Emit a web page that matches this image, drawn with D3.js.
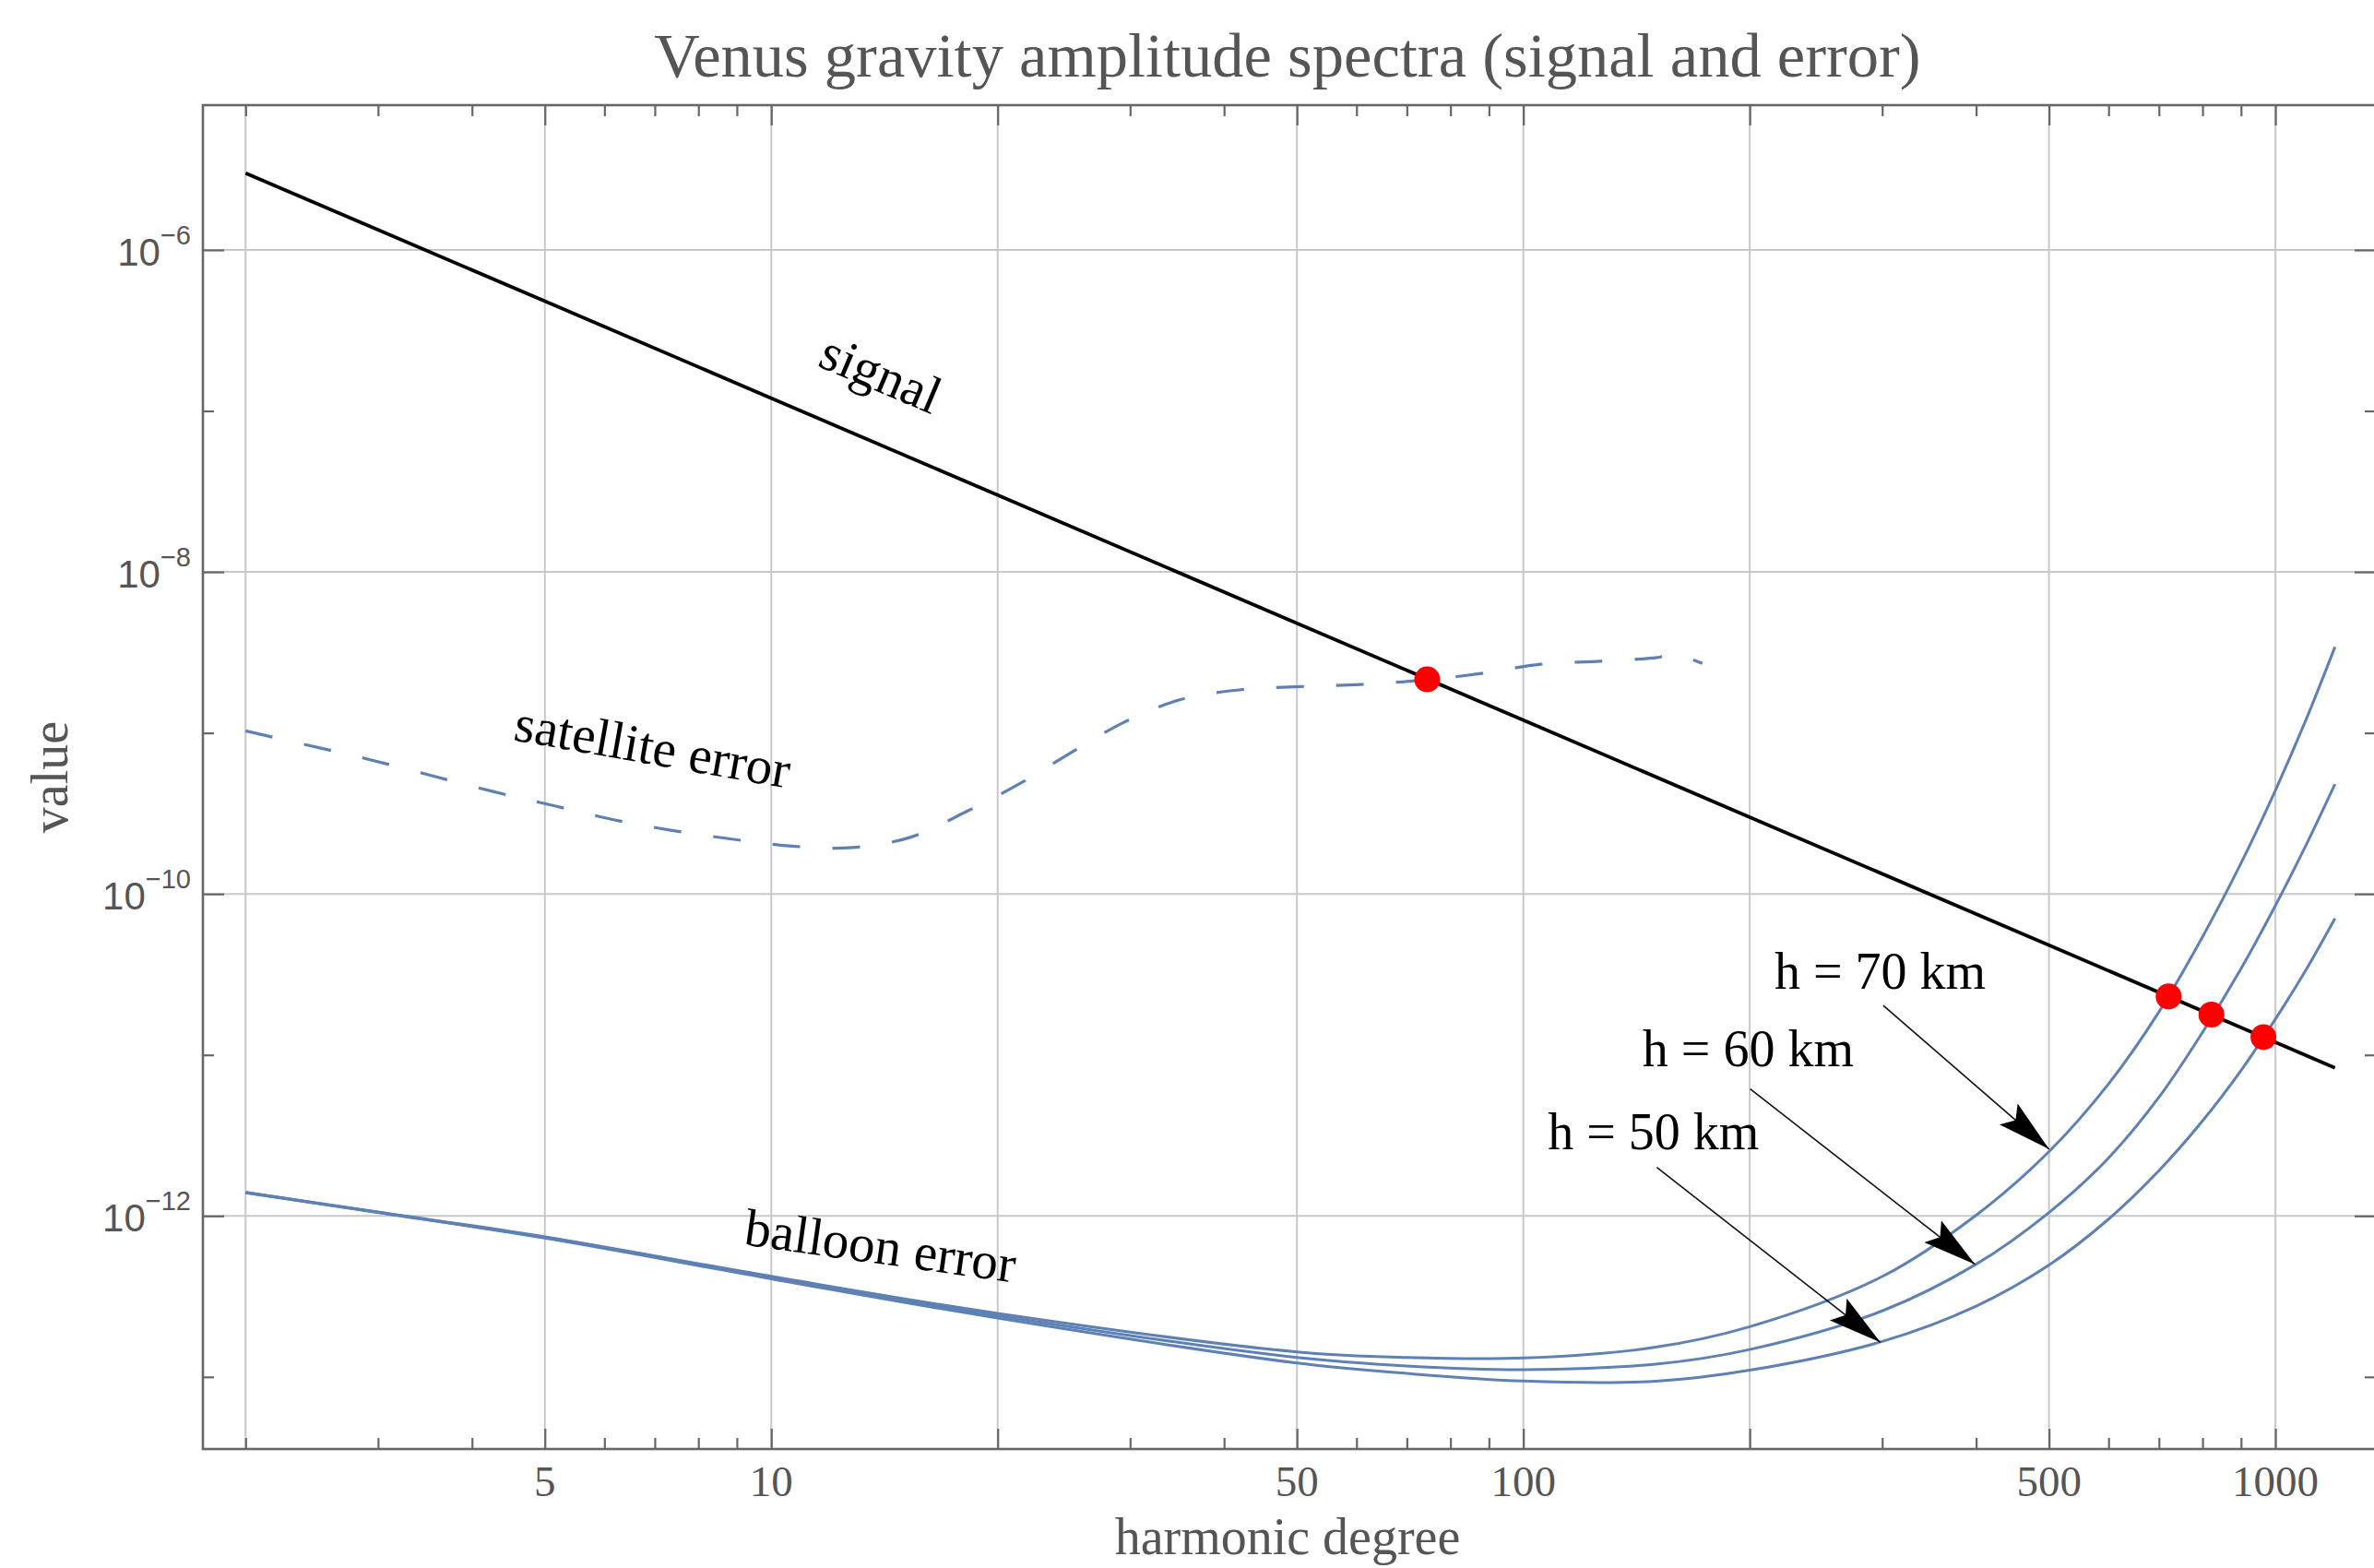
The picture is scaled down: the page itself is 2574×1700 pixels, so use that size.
<!DOCTYPE html>
<html><head><meta charset="utf-8">
<script src="https://cdn.jsdelivr.net/npm/d3@7"></script>
<style>body{margin:0;background:#fff}svg{display:block}</style>
</head><body>
<svg id="chart" width="2574" height="1700"></svg>
<script>
// ---------- data ----------
const xDomain = [1.755, 1360];
const yDomain = [3.565e-14, 7.93e-6];

const signalDegrees = [2, 5, 10, 20, 50, 100, 200, 500, 1000, 1200];
const signalValues  = [3.0e-6, 4.8e-7, 1.2e-7, 3.0e-8, 4.8e-9, 1.2e-9, 3.0e-10, 4.8e-11, 1.2e-11, 8.3e-12];

const satelliteDegrees = [2, 2.39, 2.88, 4.28, 5.14, 6.15, 7.38, 8.87, 10.66, 12.82, 15.37, 18.16, 21.5, 25, 29.4, 35, 41.9, 50.6, 60.8, 74.5, 87.9, 105.5, 126.7, 150.6, 158, 173];
const satelliteValues  = [1.03e-9, 8.5e-10, 6.95e-10, 4.31e-10, 3.53e-10, 2.90e-10, 2.48e-10, 2.19e-10, 1.98e-10, 1.94e-10, 2.26e-10, 3.24e-10, 4.9e-10, 7.5e-10, 1.16e-9, 1.61e-9, 1.85e-9, 1.94e-9, 2.0e-9, 2.14e-9, 2.34e-9, 2.67e-9, 2.79e-9, 2.94e-9, 3.08e-9, 2.70e-9];

const balloonDegrees = [2, 3, 5, 10, 20, 50, 70, 100, 150, 200, 300, 400, 500, 600, 700, 800, 900, 1000, 1100, 1200];
const balloonH50 = [1.39e-12, 1.05e-12, 7.28e-13, 4.07e-13, 2.32e-13, 1.22e-13, 1.05e-13, 9.42e-14, 9.40e-14, 1.10e-13, 1.66e-13, 2.75e-13, 4.95e-13, 9.55e-13, 1.91e-12, 3.89e-12, 8.0e-12, 1.67e-11, 3.42e-11, 7.05e-11];
const balloonH60 = [1.40e-12, 1.05e-12, 7.35e-13, 4.14e-13, 2.40e-13, 1.32e-13, 1.17e-13, 1.11e-13, 1.20e-13, 1.48e-13, 2.57e-13, 5.01e-13, 1.05e-12, 2.29e-12, 5.45e-12, 1.38e-11, 3.43e-11, 8.47e-11, 2.04e-10, 4.81e-10];
const balloonH70 = [1.40e-12, 1.057e-12, 7.41e-13, 4.21e-13, 2.48e-13, 1.43e-13, 1.32e-13, 1.31e-13, 1.53e-13, 2.05e-13, 4.20e-13, 1.01e-12, 2.51e-12, 6.61e-12, 1.85e-11, 5.41e-11, 1.55e-10, 4.40e-10, 1.23e-9, 3.42e-9];

const crossingDegrees = [74.5, 721, 822, 964];
const crossingValues  = [2.15e-9, 2.31e-11, 1.78e-11, 1.29e-11];

const xGridValues  = [2, 5, 10, 20, 50, 100, 200, 500, 1000];
const xLabelValues = [5, 10, 50, 100, 500, 1000];
const xLabelTexts  = ["5", "10", "50", "100", "500", "1000"];
const xMajorTicks  = [5, 10, 20, 50, 100, 200, 500, 1000];
const xMinorTicks  = [2, 3, 4, 6, 7, 8, 9, 30, 40, 60, 70, 80, 90, 300, 400, 600, 700, 800, 900];
const yMajorTicks  = [1e-6, 1e-8, 1e-10, 1e-12];
const yExponents   = ["\u22126", "\u22128", "\u221210", "\u221212"];
const yMinorTicks  = [1e-7, 1e-9, 1e-11, 1e-13];

const curveLabels   = ["signal", "satellite error", "balloon error"];
const curveLabelAt  = [[13.96, 1.66e-7], [6.95, 8.0e-10], [13.96, 6.33e-13]];
const curveLabelRot = [23, 10, 8];

const heightLabels  = ["h = 70 km", "h = 60 km", "h = 50 km"];
const heightLabelAt = [[215.7, 2.57e-11], [144, 8.5e-12], [107.8, 2.58e-12]];
const arrowFrom     = [[301, 2.03e-11], [200.3, 6.14e-12], [150.5, 2.0e-12]];
const arrowTo       = [[500, 2.6e-12], [398.6, 5.0e-13], [298.4, 1.64e-13]];

const titleText  = "Venus gravity amplitude spectra (signal and error)";
const xAxisTitle = "harmonic degree";
const yAxisTitle = "value";

// ---------- layout ----------
const L = 220, R = 2576, T = 114, B = 1571;
const serif = "'Liberation Serif','Times New Roman',serif";
const sans  = "'Liberation Sans',Arial,sans-serif";
const blue  = "#5E81B5";
const axisGray = "#666";
const textGray = "#555";

const svg = d3.select("#chart");
svg.append("rect").attr("width", 2574).attr("height", 1700).attr("fill", "#fff");

const x = d3.scaleLog().domain(xDomain).range([L, R]);
const y = d3.scaleLog().domain(yDomain).range([B, T]);

const defs = svg.append("defs");
defs.append("clipPath").attr("id", "plotclip")
  .append("rect").attr("x", L).attr("y", T).attr("width", R - L).attr("height", B - T);
defs.append("marker").attr("id", "arrowhead")
  .attr("markerUnits", "userSpaceOnUse")
  .attr("markerWidth", 60).attr("markerHeight", 34)
  .attr("refX", 58).attr("refY", 15).attr("orient", "auto")
  .attr("viewBox", "0 0 60 34")
  .append("path").attr("d", "M0,0 L58,15 L0,30 L10,15 Z").attr("fill", "#000");

// grid
const grid = svg.append("g").attr("stroke", "#c8c8c8").attr("stroke-width", 2);
grid.selectAll("line.gx").data(xGridValues).join("line")
  .attr("x1", d => x(d)).attr("x2", d => x(d)).attr("y1", T).attr("y2", B);
grid.selectAll("line.gy").data(yMajorTicks).join("line")
  .attr("y1", d => y(d)).attr("y2", d => y(d)).attr("x1", L).attr("x2", R);

// curves
const plot = svg.append("g").attr("clip-path", "url(#plotclip)");
const smooth = d3.line().x(d => x(d[0])).y(d => y(d[1])).curve(d3.curveCatmullRom.alpha(0.5));
const straight = d3.line().x(d => x(d[0])).y(d => y(d[1]));

[balloonH70, balloonH60, balloonH50].forEach(vals => {
  plot.append("path").datum(balloonDegrees.map((n, i) => [n, vals[i]]))
    .attr("d", smooth).attr("fill", "none").attr("stroke", blue).attr("stroke-width", 3);
});
plot.append("path").datum(satelliteDegrees.map((n, i) => [n, satelliteValues[i]]))
  .attr("d", smooth).attr("fill", "none").attr("stroke", blue).attr("stroke-width", 3.2)
  .attr("stroke-dasharray", "30,35");
plot.append("path").datum(signalDegrees.map((n, i) => [n, signalValues[i]]))
  .attr("d", straight).attr("fill", "none").attr("stroke", "#000").attr("stroke-width", 3.8);

plot.selectAll("circle.cross").data(crossingDegrees.map((n, i) => [n, crossingValues[i]])).join("circle")
  .attr("cx", d => x(d[0])).attr("cy", d => y(d[1])).attr("r", 14).attr("fill", "#ff0000");

// curve labels
curveLabels.forEach((t, i) => {
  svg.append("text")
    .attr("transform", `translate(${x(curveLabelAt[i][0])},${y(curveLabelAt[i][1])}) rotate(${curveLabelRot[i]})`)
    .attr("text-anchor", "middle").attr("dy", "0.3em")
    .attr("font-family", serif).attr("font-size", 57).attr("fill", "#000").text(t);
});

// height labels + arrows
heightLabels.forEach((t, i) => {
  svg.append("text").attr("x", x(heightLabelAt[i][0])).attr("y", y(heightLabelAt[i][1]))
    .attr("font-family", serif).attr("font-size", 56).attr("fill", "#000").text(t);
  svg.append("line")
    .attr("x1", x(arrowFrom[i][0])).attr("y1", y(arrowFrom[i][1]))
    .attr("x2", x(arrowTo[i][0])).attr("y2", y(arrowTo[i][1]))
    .attr("stroke", "#111").attr("stroke-width", 1.6).attr("marker-end", "url(#arrowhead)");
});

// axes (ticks inward on all four sides)
function styleAxis(g) {
  g.select(".domain").remove();
  g.selectAll(".tick line").attr("stroke", axisGray).attr("stroke-width", 2.2);
  g.selectAll(".tick text").remove();
}
[[xMajorTicks, 22], [xMinorTicks, 12]].forEach(([vals, len]) => {
  svg.append("g").attr("transform", `translate(0,${B})`)
    .call(d3.axisBottom(x).tickValues(vals).tickSize(-len)).call(styleAxis);
  svg.append("g").attr("transform", `translate(0,${T})`)
    .call(d3.axisTop(x).tickValues(vals).tickSize(-len)).call(styleAxis);
});
[[yMajorTicks, 23], [yMinorTicks, 12]].forEach(([vals, len]) => {
  svg.append("g").attr("transform", `translate(${L},0)`)
    .call(d3.axisLeft(y).tickValues(vals).tickSize(-len)).call(styleAxis);
  svg.append("g").attr("transform", `translate(${R},0)`)
    .call(d3.axisRight(y).tickValues(vals).tickSize(-len)).call(styleAxis);
});

// frame
svg.append("rect").attr("x", L).attr("y", T).attr("width", R - L).attr("height", B - T)
  .attr("fill", "none").attr("stroke", axisGray).attr("stroke-width", 2.6);

// x tick labels
svg.selectAll("text.xl").data(xLabelValues).join("text")
  .attr("x", d => x(d)).attr("y", B + 51)
  .attr("text-anchor", "middle").attr("font-family", serif).attr("font-size", 47)
  .attr("fill", textGray).text((d, i) => xLabelTexts[i]);

// y tick labels: 10^-n
yMajorTicks.forEach((v, i) => {
  const t = svg.append("text").attr("x", 207).attr("y", y(v) + 17)
    .attr("text-anchor", "end").attr("font-family", sans).attr("fill", textGray);
  t.append("tspan").attr("font-size", 42).text("10");
  t.append("tspan").attr("font-size", 29).attr("dy", -23).text(yExponents[i]);
});

// titles
svg.append("text").attr("x", (L + 2572) / 2).attr("y", 83).attr("text-anchor", "middle")
  .attr("font-family", serif).attr("font-size", 68.5).attr("fill", textGray).text(titleText);
svg.append("text").attr("x", (L + 2572) / 2).attr("y", 1685).attr("text-anchor", "middle")
  .attr("font-family", serif).attr("font-size", 56).attr("fill", textGray).text(xAxisTitle);
svg.append("text").attr("transform", `translate(73,${(T + B) / 2}) rotate(-90)`)
  .attr("text-anchor", "middle")
  .attr("font-family", serif).attr("font-size", 56).attr("fill", textGray).text(yAxisTitle);
</script>
</body></html>
